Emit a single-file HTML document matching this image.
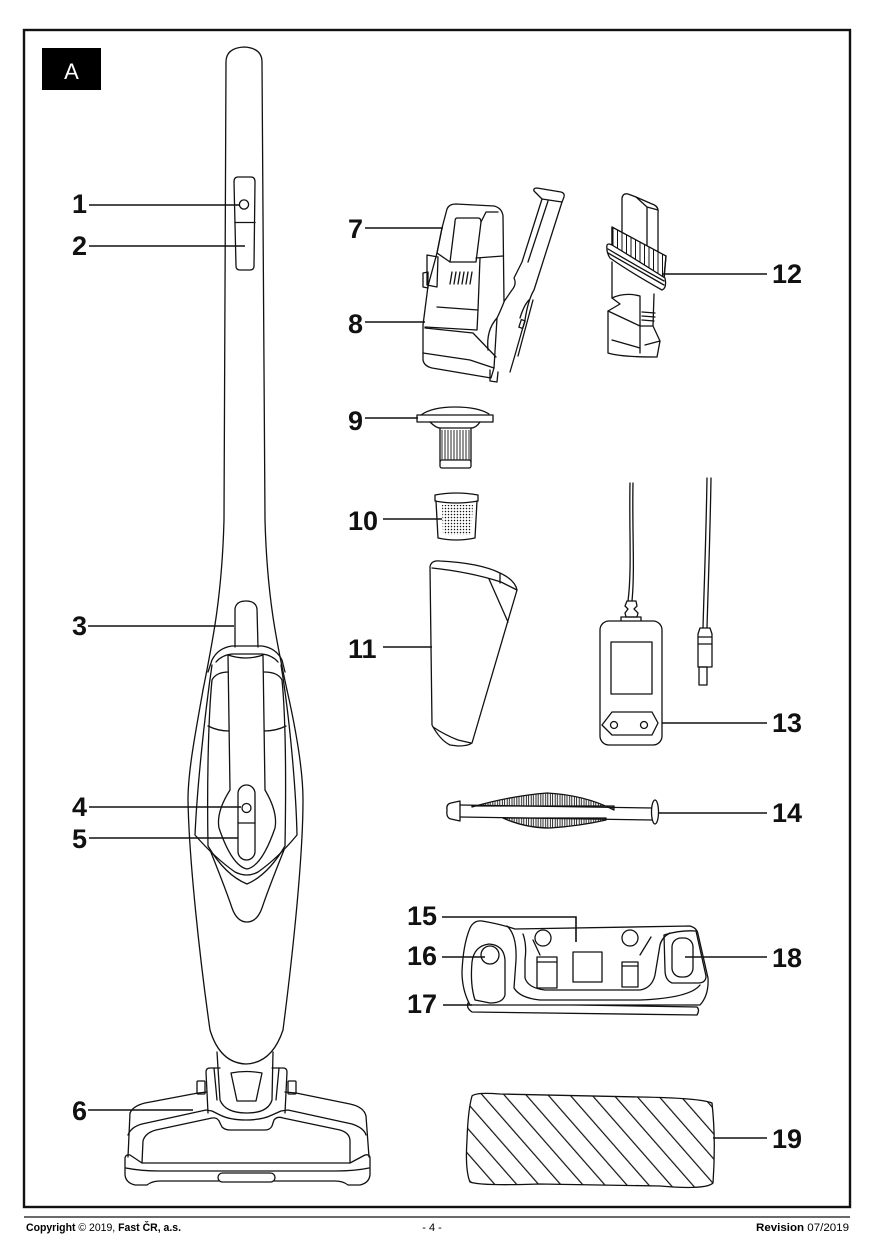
<!DOCTYPE html>
<html><head><meta charset="utf-8"><style>
html,body{margin:0;padding:0;background:#fff}
svg{display:block}
.l{fill:none;stroke:#111;stroke-width:1.3;stroke-linejoin:round;stroke-linecap:round}
.w{fill:#fff;stroke:#111;stroke-width:1.3;stroke-linejoin:round}
.ld{stroke:#111;stroke-width:1.6;fill:none}
.n{font-family:"Liberation Sans",Arial,sans-serif;font-weight:bold;font-size:27px;fill:#111}
.f{font-family:"Liberation Sans",Arial,sans-serif;font-size:11px;fill:#000}
</style></head><body>
<svg width="874" height="1240" viewBox="0 0 874 1240" xmlns="http://www.w3.org/2000/svg">
<defs>
<pattern id="hatch" width="16.5" height="20" patternUnits="userSpaceOnUse" patternTransform="rotate(-41.2) translate(4,0)">
<line x1="0.6" y1="0" x2="0.6" y2="20" stroke="#111" stroke-width="1.2"/>
</pattern>
<pattern id="dots" width="3" height="3" patternUnits="userSpaceOnUse">
<circle cx="1.5" cy="1.5" r="0.75" fill="#111"/>
</pattern>
<pattern id="pleat" width="3" height="10" patternUnits="userSpaceOnUse">
<line x1="1" y1="0" x2="1" y2="10" stroke="#111" stroke-width="0.9"/>
</pattern>
<pattern id="teeth" width="4.8" height="10" patternUnits="userSpaceOnUse">
<line x1="0.6" y1="0" x2="0.6" y2="10" stroke="#111" stroke-width="0.9"/>
<line x1="3.2" y1="0" x2="3.2" y2="10" stroke="#111" stroke-width="0.9"/>
</pattern>
<pattern id="brist" width="4.5" height="10" patternUnits="userSpaceOnUse">
<line x1="1" y1="0" x2="1" y2="10" stroke="#111" stroke-width="1"/>
</pattern>
<clipPath id="padclip"><path d="M472,1096 Q476,1092 500,1094 L640,1097 Q700,1098 712,1103 Q716,1140 713,1183 Q706,1190 660,1186 L540,1184 Q480,1186 470,1182 Q465,1170 467,1140 Q468,1110 472,1096 Z"/></clipPath>
</defs>

<!-- frame -->
<rect x="24" y="30" width="826" height="1177" fill="none" stroke="#111" stroke-width="2.4"/>
<rect x="42" y="48" width="59" height="42" fill="#000"/>
<text x="71.5" y="79" text-anchor="middle" font-family="Liberation Sans,Arial,sans-serif" font-size="22" fill="#fff">A</text>

<!-- ============ STICK VACUUM ============ -->
<path class="l" d="M203,690 C196,730 188,770 188,800 C189,860 200,960 210,1030 Q220,1063 246,1064 Q272,1063 283,1030 C292,960 303,860 303,800 C303,770 296,730 287,690"/>
<path class="l" d="M203,690 C213,640 222,595 224,520 L226,62 Q226,48 244,47 Q262,48 262,62 L265,520 C267,595 276,640 287,690"/>
<path class="l" d="M238,177 L251,177 Q255,177 255,182 L254,266 Q254,270 250,270 L240,270 Q236,270 236,266 L234,182 Q234,177 238,177 Z"/>
<circle class="l" cx="244" cy="204.5" r="4.6"/>
<line class="l" x1="235" y1="222.5" x2="255" y2="222.5"/>
<path class="l" d="M235,647 L235,609 Q236,601 246,601 Q256,601 257,609 L258,647"/>
<path class="l" d="M208,672 L212,660 Q218,648 232,646 L262,646 Q276,648 282,660 L285,672"/>
<path class="l" d="M216,662 Q222,655 232,654 L262,654 Q272,655 278,662"/>
<path class="l" d="M212,665 C204,720 197,790 195,835 Q215,858 235,872 Q247,878 258,872 Q278,858 297,835 C296,790 290,720 281,665"/>
<path class="l" d="M229,672 Q216,672 212,680 C208,720 207,790 208,846 Q225,875 247,884 Q268,875 285,846 C286,790 286,720 282,680 Q278,672 264,672"/>
<path class="l" d="M208,726 Q218,731 229,731 M264,731 Q276,731 286,726"/>
<path class="w" d="M228,655 L230,790 Q216,812 219,828 Q232,866 247,869 Q262,866 275,828 Q278,812 265,790 L263,655 Q246,661 228,655 Z"/>
<rect class="l" x="238" y="785" width="17" height="75" rx="8.5"/>
<circle class="l" cx="246.5" cy="808" r="4.5"/>
<line class="l" x1="238" y1="823" x2="255" y2="823"/>
<path class="l" d="M210,850 C218,870 226,890 232,908 Q237,922 247,922 Q257,922 262,908 C268,890 276,870 284,850"/>

<!-- floor head -->
<path class="l" d="M217,1052 L220,1100 Q225,1113 247,1113 Q268,1113 272,1100 L273,1052"/>
<path class="l" d="M231,1073 Q246,1070 262,1073 L256,1101 L237,1101 Z"/>
<path class="l" d="M208,1113 L206,1072 Q206,1068 210,1068 L220,1068 M285,1113 L287,1072 Q287,1068 283,1068 L272,1068"/>
<path class="l" d="M214,1068 L217,1100 M279,1068 L276,1100"/>
<rect class="l" x="197" y="1081" width="8" height="13" rx="1"/>
<rect class="l" x="288" y="1081" width="8" height="13" rx="1"/>
<path class="l" d="M130,1113 Q133,1106 145,1103 L198,1093 L207,1092"/>
<path class="l" d="M285,1092 L296,1093 L350,1104 Q364,1107 366,1116"/>
<path class="l" d="M128,1135 Q131,1127 142,1124 L206,1110 L212,1111 L220,1115 Q230,1120 246,1120 Q262,1120 272,1115 L281,1111 L288,1110 L352,1124 Q364,1128 366,1135"/>
<path class="l" d="M130,1113 L128,1157 M366,1116 L369,1157"/>
<path class="l" d="M142,1163 L143,1141 Q145,1133 156,1130 L212,1118 Q218,1117 220,1123 L222,1127 Q225,1130 230,1130 L265,1130 Q270,1130 272,1126 L274,1120 Q277,1116 283,1118 L340,1130 Q350,1133 350,1141 L350,1163"/>
<path class="l" d="M125,1158 Q126,1154 130,1155 L142,1163 L350,1163 L365,1155 Q370,1154 370,1158 L370,1175 Q369,1183 360,1185 L348,1185 Q343,1181 335,1181 L160,1181 Q152,1181 147,1185 L135,1185 Q126,1183 125,1175 Z"/>
<path class="l" d="M126,1168 Q140,1171 160,1171 L335,1171 Q355,1171 369,1168"/>
<rect class="w" x="218" y="1173" width="57" height="9" rx="4.5"/>

<!-- ============ HANDHELD 7/8 ============ -->
<path class="l" d="M542,199 L534,191 Q533,188 537,188 L561,192 Q565,193 564,197 L562,202 Z"/>
<path class="l" d="M542,199 L522,262 L514,278 Q517,284 512,290 L503,303"/>
<path class="l" d="M562,202 L534,290 Q528,300 525,320 L515,355 L510,372"/>
<path class="l" d="M548,201 L528,262"/>
<path class="l" d="M533,300 L518,356 M529,300 Q524,305 520,318"/>
<rect class="l" x="520" y="320" width="4" height="8" transform="rotate(18 522 324)"/>
<path class="w" d="M442,228 L447,209 Q449,204 456,204 L494,206 Q502,208 503,216 L504,302 Q500,312 497,318 L494,368 L491,378 L432,368 Q424,366 423,360 L423,325 L428,286 L437,253 Z"/>
<path class="l" d="M437,253 L442,228"/>
<path class="l" d="M457,218 L478,218 Q481,218 481,222 L476,262 L450,262 L455,222 Q455,218 457,218 Z"/>
<path class="l" d="M437,253 L450,262 M476,258 L503,256 M481,222 L486,212 L498,212"/>
<path class="l" d="M452,272 L450,284 M456,272 L454,284 M460,272 L458,284 M464,272 L462,284 M468,272 L466,284 M472,272 L470,284"/>
<path class="l" d="M437,307 L478,310 L477,330 L425,327"/>
<path class="l" d="M425,328 L473,333 L496,357"/>
<path class="l" d="M423,353 L470,360 L494,368"/>
<path class="l" d="M478,310 L480,258 M497,318 Q486,330 488,350"/>
<path class="l" d="M427,255 L438,257 L437,287 L427,285 Z"/>
<path class="l" d="M423,273 L428,272 L428,288 L423,287 Z"/>
<path class="l" d="M490,370 L490,381 L497,382 L498,372"/>

<!-- ============ ITEM 12 ============ -->
<path class="l" d="M622,262 L622,198 Q623,193 628,194 L636,197 L652,204 Q659,206 658,213 L658,262"/>
<path class="l" d="M636,197 L647,207 L658,210 M647,207 L647,262"/>
<path class="w" d="M612,248 L612,227 L666,256 L664,280 Z" stroke="none"/>
<path d="M612,248 L612,227 L666,256 L664,280 Z" fill="url(#brist)" stroke="none"/>
<path class="l" d="M612,227 L612,246 M666,256 L664,276"/>
<path class="w" d="M607,245 Q606,252 610,258 Q630,272 662,290 Q667,288 665,278 Q640,262 612,245 Q608,243 607,245 Z"/>
<path class="l" d="M608,249 Q635,265 664,281 M608,253 Q636,269 664,285"/>
<path class="l" d="M612,262 L612,298 L620,304 L608,311 L608,353 Q620,357 657,357 L660,341 L653,326 L654,294"/>
<path class="l" d="M612,298 Q625,292 640,296 L640,353 M608,311 L640,326 L653,326"/>
<path class="l" d="M642,312 L655,313 M642,316 L655,317 M642,320 L654,321"/>
<path class="l" d="M612,340 L640,348 M660,341 L645,345"/>

<!-- ============ ITEM 9 ============ -->
<path class="w" d="M417,415 L493,415 L493,422 L417,422 Z"/>
<path class="l" d="M421,415 Q432,407 455,407 Q478,407 489,414"/>
<path class="l" d="M430,422 Q436,428 440,428 L471,428 Q476,428 480,422"/>
<rect x="441" y="430" width="29" height="30" fill="url(#pleat)"/>
<path class="l" d="M440,428 L440,462 M471,428 L471,462"/>
<rect class="l" x="440" y="460" width="31" height="8" rx="2"/>

<!-- ============ ITEM 10 ============ -->
<path class="l" d="M435,495 Q456,491 478,495 L478,501 Q456,505 435,501 Z"/>
<path class="l" d="M436,501 L438,538 Q456,542 475,538 L477,501"/>
<path d="M442,505 L473,505 L471,535 L443,535 Z" fill="url(#dots)"/>

<!-- ============ ITEM 11 ============ -->
<path class="l" d="M432,725 L430,567 Q431,560 440,561 Q480,563 500,573 Q515,580 517,590 L472,743 Q468,746 458,746 L450,745 Q440,740 432,725 Z"/>
<path class="l" d="M432,568 Q470,572 501,582 L517,590 M489,579 L508,622 M500,574 L500,583"/>
<path class="l" d="M433,727 Q445,735 458,740 L471,743"/>

<!-- ============ ITEM 13 ============ -->
<path class="l" d="M630,483 C629,530 632,570 628,601 M633,483 C632,530 635,570 632,601"/>
<path class="l" d="M627,601 L636,601 L637,606 L634,609 L638,613 L637,617 L626,617 L625,613 L628,609 L625,606 Z"/>
<rect class="l" x="621" y="617" width="20" height="4.5"/>
<rect class="w" x="600" y="621" width="62" height="124" rx="9"/>
<rect class="l" x="611" y="642" width="41" height="52"/>
<path class="l" d="M602,725 L612,712 L652,712 L658,723 L652,735 L612,735 Z"/>
<circle class="l" cx="614" cy="725" r="3.5"/>
<circle class="l" cx="644" cy="725" r="3.5"/>
<path class="l" d="M707,478 C706,540 704,590 703,628 M711,478 C710,540 708,590 707,628"/>
<path class="l" d="M700,628 L710,628 L712,634 L712,667 L698,667 L698,634 Z M698,637 L712,637 M698,644 L712,644"/>
<rect class="l" x="699" y="667" width="8" height="18"/>

<!-- ============ ITEM 14 ============ -->
<path class="w" d="M472,807 Q510,796 547,793 Q585,795 614,810 L614,806 L472,806 Z"/>
<path d="M472,807 Q510,796 547,793 Q585,795 614,810 L614,806 L472,806 Z" fill="url(#teeth)" stroke="none"/>
<path class="w" d="M503,818 Q525,828 550,828 Q580,826 606,820 L606,818 Z"/>
<path d="M503,818 Q525,828 550,828 Q580,826 606,820 L606,818 Z" fill="url(#teeth)" stroke="none"/>
<path class="l" d="M460,805 L653,808 M460,817 L653,820"/>
<path class="w" d="M447,810 Q446,804 451,803 L460,801 L460,821 L451,819 Q446,818 447,810 Z"/>
<ellipse class="w" cx="655" cy="812" rx="3.5" ry="12"/>

<!-- ============ DOCK 15-18 ============ -->
<path class="w" d="M468,1003 L697,1007 Q700,1010 697,1015 L472,1012 Q466,1008 468,1003 Z"/>
<path class="w" d="M470,1005 Q462,990 462,972 Q463,945 470,928 Q474,920 482,921 Q500,924 515,929 L690,926 Q697,928 698,934 L708,978 Q709,995 700,1005 Z"/>
<path class="l" d="M507,926 Q517,935 516,960 L514,988 Q520,998 540,1000 L640,1000 Q690,998 700,985"/>
<path class="l" d="M523,934 Q527,945 525,960 L525,978 Q528,988 545,990 L640,990 Q652,988 655,975 L660,945 Q662,937 670,933"/>
<path class="l" d="M475,1000 Q470,985 472,962 Q474,946 489,944 Q504,945 505,960 L505,995 Q503,1003 490,1003 Z"/>
<circle class="l" cx="490" cy="955" r="9"/>
<path class="l" d="M664,935 Q680,930 696,931 L706,976 Q706,983 698,983 L672,983 Q665,980 665,970 Z"/>
<rect class="l" x="672" y="938" width="21" height="39" rx="9"/>
<circle class="w" cx="543" cy="938" r="8"/>
<circle class="w" cx="630" cy="938" r="8"/>
<path class="l" d="M533,940 L540,955 M651,937 L640,955"/>
<rect class="l" x="537" y="957" width="20" height="31"/>
<line class="l" x1="537" y1="962" x2="557" y2="962"/>
<rect class="l" x="573" y="952" width="29" height="30"/>
<rect class="l" x="622" y="962" width="16" height="25"/>
<line class="l" x1="622" y1="966" x2="638" y2="966"/>

<!-- ============ ITEM 19 ============ -->
<rect x="460" y="1088" width="260" height="105" fill="url(#hatch)" clip-path="url(#padclip)"/>
<path class="l" d="M472,1096 Q476,1092 500,1094 L640,1097 Q700,1098 712,1103 Q716,1140 713,1183 Q706,1190 660,1186 L540,1184 Q480,1186 470,1182 Q465,1170 467,1140 Q468,1110 472,1096 Z"/>

<!-- ============ LEADERS ============ -->
<path class="ld" d="M89,205 L240,205 M89,246 L245,246 M88,626 L234,626 M89,807 L241,807 M89,838 L238,838 M88,1110 L193,1110"/>
<path class="ld" d="M365,228 L443,228 M365,322 L425,322 M365,418 L418,418 M383,519 L442,519 M383,647 L432,647"/>
<path class="ld" d="M663,274 L767,274 M662,723 L767,723 M658,813 L767,813 M685,957 L767,957 M713,1138 L767,1138"/>
<path class="ld" d="M442,917 L576,917 L576,942 M442,957 L485,957 M443,1005 L472,1005"/>

<!-- ============ LABELS ============ -->
<text class="n" x="72" y="213">1</text>
<text class="n" x="72" y="255">2</text>
<text class="n" x="72" y="635">3</text>
<text class="n" x="72" y="816">4</text>
<text class="n" x="72" y="848">5</text>
<text class="n" x="72" y="1120">6</text>
<text class="n" x="348" y="238">7</text>
<text class="n" x="348" y="333">8</text>
<text class="n" x="348" y="430">9</text>
<text class="n" x="348" y="530">10</text>
<text class="n" x="348" y="658">11</text>
<text class="n" x="772" y="283">12</text>
<text class="n" x="772" y="732">13</text>
<text class="n" x="772" y="822">14</text>
<text class="n" x="407" y="925">15</text>
<text class="n" x="407" y="965">16</text>
<text class="n" x="407" y="1013">17</text>
<text class="n" x="772" y="967">18</text>
<text class="n" x="772" y="1148">19</text>

<!-- ============ FOOTER ============ -->
<line x1="24" y1="1217" x2="850" y2="1217" stroke="#111" stroke-width="1.3"/>
<text class="f" x="26" y="1231" textLength="155" lengthAdjust="spacingAndGlyphs"><tspan font-weight="bold">Copyright</tspan> © 2019, <tspan font-weight="bold">Fast ČR, a.s.</tspan></text>
<text class="f" x="432" y="1231" text-anchor="middle">- 4 -</text>
<text class="f" x="756" y="1231" textLength="93" lengthAdjust="spacingAndGlyphs"><tspan font-weight="bold">Revision</tspan> 07/2019</text>
</svg>
</body></html>
